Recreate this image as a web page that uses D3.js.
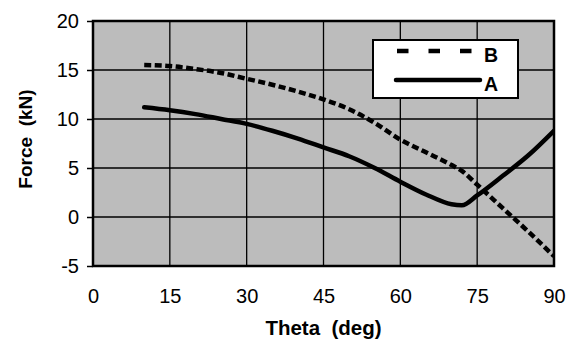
<!DOCTYPE html>
<html><head><meta charset="utf-8">
<script src="https://cdn.jsdelivr.net/npm/d3@7"></script>
<style>
html,body{margin:0;padding:0;background:#fff;}
svg{display:block;font-family:"Liberation Sans",Arial,sans-serif;}
</style></head>
<body>
<svg id="chart" width="569" height="347"></svg>
<script>
const theta = [10,15,20,25,30,35,40,45,50,55,60,65,70,72,75,80,85,90];
const seriesA = [11.2,10.9,10.5,10.0,9.5,8.8,8.0,7.1,6.2,5.0,3.6,2.3,1.3,1.2,2.2,4.2,6.3,8.8];
const seriesB = [15.5,15.4,15.1,14.7,14.1,13.5,12.8,12.0,11.0,9.6,7.9,6.6,5.3,4.7,3.3,0.9,-1.5,-4.0];
const xTicks = [0,15,30,45,60,75,90];
const yTicks = [-5,0,5,10,15,20];
const legendLabels = ["B","A"];

const svg = d3.select("#chart");
const L = 93, R = 554, T = 21, B = 266;
const x = d3.scaleLinear().domain([0,90]).range([L,R]);
const y = d3.scaleLinear().domain([-5,20]).range([B,T]);

// plot background
svg.append("rect").attr("x",L).attr("y",T).attr("width",R-L).attr("height",B-T)
  .attr("fill","#bcbcbc");

// gridlines
svg.append("g").selectAll("line").data(xTicks.filter(d=>d>0&&d<90)).join("line")
  .attr("x1",d=>x(d)).attr("x2",d=>x(d)).attr("y1",T).attr("y2",B)
  .attr("stroke","#000").attr("stroke-width",1.3);
svg.append("g").selectAll("line").data(yTicks.filter(d=>d>-5&&d<20)).join("line")
  .attr("x1",L).attr("x2",R).attr("y1",d=>y(d)).attr("y2",d=>y(d))
  .attr("stroke","#000").attr("stroke-width",1.3);

// axes
const fmt = d => String(d);
const yAxis = d3.axisLeft(y).tickValues(yTicks).tickSize(6).tickPadding(8).tickFormat(fmt);
const gy = svg.append("g").attr("transform",`translate(${L},0)`).call(yAxis);
gy.select(".domain").remove();
gy.selectAll("line").attr("stroke","#000").attr("stroke-width",1.5);
gy.selectAll("text").attr("font-size",20).attr("fill","#000").attr("font-family","Liberation Sans, Arial, sans-serif");

const xAxis = d3.axisBottom(x).tickValues(xTicks).tickSize(0).tickPadding(23).tickFormat(fmt);
const gx = svg.append("g").attr("transform",`translate(0,${B})`).call(xAxis);
gx.select(".domain").remove();
gx.selectAll("text").attr("font-size",20).attr("fill","#000").attr("font-family","Liberation Sans, Arial, sans-serif");

// lines
const dataA = theta.map((t,i)=>[t,seriesA[i]]);
const dataB = theta.map((t,i)=>[t,seriesB[i]]);
const line = d3.line().x(d=>x(d[0])).y(d=>y(d[1])).curve(d3.curveMonotoneX);

svg.append("defs").append("clipPath").attr("id","clip")
  .append("rect").attr("x",L).attr("y",T).attr("width",R-L).attr("height",B-T);

svg.append("path").datum(dataB).attr("d",line).attr("fill","none")
  .attr("stroke","#000").attr("stroke-width",4.5).attr("stroke-dasharray","7,3.5")
  .attr("clip-path","url(#clip)");
svg.append("path").datum(dataA).attr("d",line).attr("fill","none")
  .attr("stroke","#000").attr("stroke-width",4.5).attr("stroke-linecap","round")
  .attr("clip-path","url(#clip)");

// frame
svg.append("rect").attr("x",L).attr("y",T).attr("width",R-L).attr("height",B-T)
  .attr("fill","none").attr("stroke","#000").attr("stroke-width",2.5);

// legend
const lg = svg.append("g");
lg.append("rect").attr("x",373).attr("y",40).attr("width",145).attr("height",58)
  .attr("fill","#fff").attr("stroke","#000").attr("stroke-width",2);
lg.append("line").attr("x1",397).attr("x2",472).attr("y1",51).attr("y2",51)
  .attr("stroke","#000").attr("stroke-width",4.5).attr("stroke-dasharray","11.5,20");
lg.append("line").attr("x1",396).attr("x2",480).attr("y1",80).attr("y2",80)
  .attr("stroke","#000").attr("stroke-width",4.5).attr("stroke-linecap","round");
lg.selectAll("text").data(legendLabels).join("text")
  .attr("x",484).attr("y",(d,i)=>i===0?62:91)
  .attr("font-size",19.5).attr("font-weight","bold").attr("fill","#000")
  .text(d=>d);

// axis titles
svg.append("text").attr("x",(L+R)/2).attr("y",335).attr("text-anchor","middle")
  .attr("font-size",20.5).attr("font-weight","bold")
  .style("white-space","pre").text("Theta  (deg)");
svg.append("text").attr("transform","translate(32,139) rotate(-90)").attr("text-anchor","middle")
  .attr("font-size",19).attr("font-weight","bold").style("white-space","pre")
  .text("Force  (kN)");
</script>
</body></html>
